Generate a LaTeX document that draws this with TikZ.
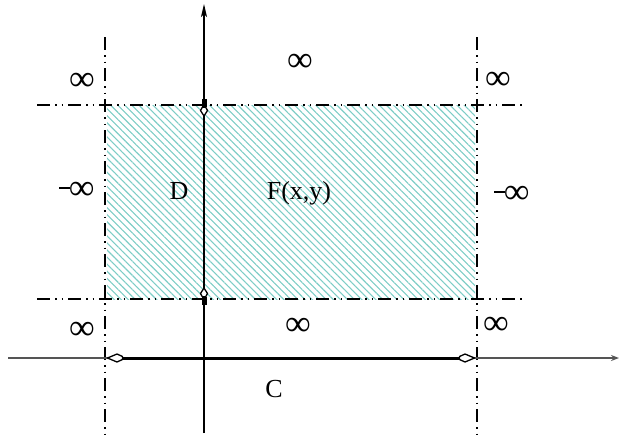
\documentclass[tikz,border=0pt]{standalone}
\usepackage{fontspec}
\setmainfont{Liberation Serif}
\usetikzlibrary{arrows.meta,patterns.meta}
\definecolor{hatch}{RGB}{125,205,198}
\definecolor{axisgray}{RGB}{85,85,85}
\newcommand{\myminf}{\rule[11pt]{11pt}{1.5pt}\kern-1.5pt∞}
\begin{document}
\begin{tikzpicture}[x=1pt,y=-1pt,
  dashdot/.style={line width=1.5pt, dash pattern=on 13pt off 5pt on 1.5pt off 5pt on 1.5pt off 5pt},
  lbl/.style={font=\fontsize{26}{30}\selectfont, inner sep=0pt},
  inf/.style={font=\fontsize{36}{40}\selectfont, inner sep=0pt},
  kitemark/.style={fill=white, draw=black, line width=1.3pt, line join=round},
  barmark/.style={fill=black}]
\useasboundingbox (0,0) rectangle (621,440);
% hatched region
\fill[pattern={Lines[angle=-45,distance=5pt,line width=1.1pt]}, pattern color=hatch] (107,105) rectangle (475,299);
% named points
\coordinate (L1) at (105,37);  \coordinate (L2) at (105,438);
\coordinate (R1) at (477,37);  \coordinate (R2) at (477,438);
\coordinate (T1) at (37,105);  \coordinate (T2) at (522,105);
\coordinate (B1) at (37,299);  \coordinate (B2) at (522,299);
\coordinate (XA) at (8,358);   \coordinate (XB) at (619,358);
\coordinate (YA) at (204,433); \coordinate (YB) at (204,4);
\coordinate (C1) at (121,358); \coordinate (C2) at (461,358);
% dash-dot boundaries
\draw[dashdot] (L1) -- (L2);
\draw[dashdot] (R1) -- (R2);
\draw[dashdot] (T1) -- (T2);
\draw[dashdot] (B1) -- (B2);
% axes
\draw[axisgray, line width=1.4pt, -{Stealth[length=8pt,width=6pt]}] (XA) -- (XB);
\draw[black, line width=1.3pt, -{Stealth[length=13pt,width=6pt,inset=3pt]}] (YA) -- (YB);
% C segment
\draw[line width=3pt] (C1) -- (C2);
\draw[kitemark] (107.5,358) -- (117,354) -- (122.5,356.5) -- (122.5,359.5) -- (117,362) -- cycle;
\draw[kitemark] (474.5,358) -- (465,354) -- (459.5,356.5) -- (459.5,359.5) -- (465,362) -- cycle;
% D segment marks
\fill[barmark] (201.5,99) rectangle (206.5,107);
\draw[kitemark] (204,116) -- (200.5,110.5) -- (202.3,107.3) -- (205.7,107.3) -- (207.5,110.5) -- cycle;
\fill[barmark] (201.5,297) rectangle (206.5,305);
\draw[kitemark] (204,288) -- (200.5,293.5) -- (202.3,296.7) -- (205.7,296.7) -- (207.5,293.5) -- cycle;
% labels
\node[inf] (i1) at (82,82) {∞};
\node[inf] (i2) at (300,63) {∞};
\node[inf] (i3) at (498,81) {∞};
\node[inf] (m1) at (77,191) {\myminf};
\node[inf] (m2) at (512,195) {\myminf};
\node[inf] (i4) at (82,331) {∞};
\node[inf] (i5) at (298,327) {∞};
\node[inf] (i6) at (496,326) {∞};
\node[lbl, anchor=base] (d) at (179,199) {D};
\node[lbl, anchor=base] (f) at (299,199) {F(x,y)};
\node[lbl, anchor=base] (c) at (274,397) {C};
\end{tikzpicture}
\end{document}
